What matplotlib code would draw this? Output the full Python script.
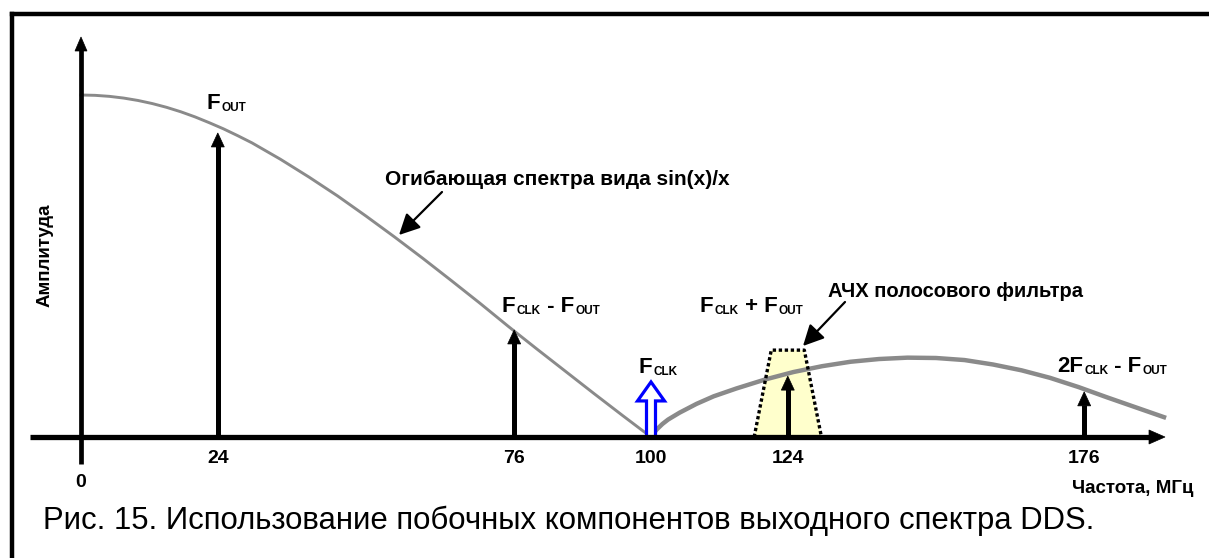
import matplotlib
matplotlib.use('Agg')
import matplotlib.pyplot as plt
from matplotlib.patches import Polygon
from matplotlib.lines import Line2D
import numpy as np

plt.rcParams['font.family'] = ['Liberation Sans', 'DejaVu Sans']

# -----------------
# DATA
# -----------------
# огибающая sin(x)/x, первый лепесток (частота, МГц / относительная амплитуда)
lobe1_f = [0, 2.5, 5, 7.5, 10, 12.5, 15, 17.5, 20, 22.5, 25, 27.5, 30, 35, 40, 45, 50,
           55, 60, 65, 70, 75, 80, 85, 90, 95, 100]
lobe1_a = [1.0, 0.999, 0.996, 0.991, 0.984, 0.975, 0.964, 0.951, 0.936, 0.919, 0.901,
           0.881, 0.86, 0.812, 0.76, 0.705, 0.646, 0.585, 0.522, 0.457, 0.391, 0.323,
           0.257, 0.192, 0.127, 0.063, 0.0]
# второй лепесток
lobe2_f = [100, 101, 102, 103, 105, 108, 111, 115, 120, 125, 130, 135, 140, 145, 150,
           155, 160, 165, 170, 175, 180, 185, 190]
lobe2_a = [0.0, 0.022, 0.038, 0.051, 0.071, 0.097, 0.119, 0.142, 0.168, 0.19, 0.207,
           0.22, 0.228, 0.232, 0.231, 0.225, 0.212, 0.195, 0.173, 0.146, 0.116, 0.087, 0.058]

# спектральные составляющие
comp_f = [24, 76, 124, 176]
comp_a = [0.889, 0.313, 0.178, 0.132]
clk_f, clk_a = 100, 0.161  # F_CLK

# АЧХ полосового фильтра (трапеция)
filter_f = [118.1, 121.1, 126.9, 129.9]
filter_a = [0.0, 0.254, 0.254, 0.0]

tick_vals = [24, 76, 100, 124, 176]

# -----------------
# ГЕОМЕТРИЯ
# -----------------
W, H, DPI = 1209, 558, 100
X0_PX, Y0_PX = 81, 437   # начало координат в пикселях
SX, SY = 5.7, 342.0      # пикселей на единицу


def px(xp, yp):
    # пиксели -> данные
    return (xp - X0_PX) / SX, (Y0_PX - yp) / SY


fig = plt.figure(figsize=(W / DPI, H / DPI), dpi=DPI)
ax = fig.add_axes([0, 0, 1, 1])
ax.set_xlim(-X0_PX / SX, (W - X0_PX) / SX)
ax.set_ylim(-(H - Y0_PX) / SY, Y0_PX / SY)
ax.axis('off')


def block_arrow(x0, y0, x1, y1, lw, hl, hw, color='k', z=4):
    # стрелка: ствол линией, голова треугольником (hl, hw в пикселях)
    dxp, dyp = (x1 - x0) * SX, (y1 - y0) * SY
    L = np.hypot(dxp, dyp)
    ux, uy = dxp / L, dyp / L
    bx, by = x1 - ux * hl / SX, y1 - uy * hl / SY
    nx, ny = -uy * hw / 2 / SX, ux * hw / 2 / SY
    ax.plot([x0, bx + ux * 1 / SX], [y0, by + uy * 1 / SY], color=color, lw=lw,
            solid_capstyle='butt', zorder=z)
    ax.add_patch(Polygon([[bx + nx, by + ny], [bx - nx, by - ny], [x1, y1]],
                         closed=True, fc=color, ec=color, lw=0.5, zorder=z))


def hollow_arrow(x, y0, y1, sw, hl, hw, color='#0000ff'):
    # полая стрелка F_CLK (размеры в пикселях)
    s, h, l = sw / 2 / SX, hw / 2 / SX, hl / SY
    pts = [[x - s, y0], [x - s, y1 - l], [x - h, y1 - l], [x, y1],
           [x + h, y1 - l], [x + s, y1 - l], [x + s, y0]]
    ax.add_patch(Polygon(pts, closed=True, fc='white', ec=color, lw=2.3,
                         joinstyle='miter', zorder=3))


def sub_label(xp, yp, parts, size=16, subsize=8.5):
    # подпись вида F_CLK - F_OUT: чётные куски обычные, нечётные - индексы
    x, y = px(xp, yp)
    prev = ax.text(x, y, parts[0], fontsize=size, fontweight='bold',
                   ha='left', va='baseline', zorder=6)
    for i, p in enumerate(parts[1:], 1):
        sub = i % 2 == 1
        prev = ax.annotate(p, xy=(1, 0), xycoords=prev,
                           xytext=(0.8 if sub else 0, 0), textcoords='offset points',
                           fontsize=subsize if sub else size, fontweight='bold',
                           ha='left', va='bottom', zorder=6)


# рамка
fig.add_artist(Line2D([12 / W, 12 / W], [0, 1 - 14 / H], color='k', lw=3.2,
                      transform=fig.transFigure, solid_capstyle='projecting'))
fig.add_artist(Line2D([12 / W, 1], [1 - 14 / H, 1 - 14 / H], color='k', lw=3.2,
                      transform=fig.transFigure, solid_capstyle='projecting'))

# фильтр
ax.add_patch(Polygon(np.column_stack([filter_f, filter_a]), closed=True,
                     fc='#ffffcc', ec='none', zorder=1))
ax.plot(filter_f, filter_a, color='k', lw=2.4, linestyle=(0, (1, 0.8)), zorder=3)

# огибающая
ax.plot(lobe1_f, lobe1_a, color='#8a8a8a', lw=2.1, zorder=2)
ax.plot(lobe2_f, lobe2_a, color='#8a8a8a', lw=3.2, zorder=2)

# спектральные линии
for f, a in zip(comp_f, comp_a):
    block_arrow(f, 0, f, a, lw=3.6, hl=14, hw=13)

hollow_arrow(clk_f, 0, clk_a, sw=9, hl=19, hw=27)

# оси
xa0, _ = px(30, 0)
xa1, _ = px(1165, 0)
block_arrow(xa0, 0, xa1, 0, lw=3.8, hl=16, hw=14, z=5)
_, ya0 = px(0, 464)
_, ya1 = px(0, 37)
block_arrow(0, ya0, 0, ya1, lw=3.4, hl=14, hw=12, z=5)

# подписи шкалы
for v in tick_vals:
    ax.text(v, px(0, 450)[1], str(v), fontsize=14, fontweight='bold',
            ha='center', va='top')
ax.text(0, px(0, 474)[1], '0', fontsize=14, fontweight='bold', ha='center', va='top')

# подписи осей
ax.text(*px(45, 255), 'Амплитуда', fontsize=13.5, fontweight='bold', rotation=90,
        ha='center', va='center')
ax.text(*px(1072, 480), 'Частота, МГц', fontsize=13.5, fontweight='bold',
        ha='left', va='top')

# подписи составляющих
sub_label(207, 109, ['F', 'OUT'])
sub_label(502, 312, ['F', 'CLK', ' - F', 'OUT'])
sub_label(639, 373, ['F', 'CLK'])
sub_label(700, 312, ['F', 'CLK', ' + F', 'OUT'])
sub_label(1057, 372, ['2F', 'CLK', ' - F', 'OUT'])

# пояснения со стрелками
ax.text(*px(385, 185), 'Огибающая спектра вида sin(x)/x', fontsize=15,
        fontweight='bold', ha='left', va='baseline')
ax.annotate('', xy=px(399, 235), xytext=px(442, 192),
            arrowprops=dict(arrowstyle='-|>,head_length=0.9,head_width=0.45',
                            color='k', lw=1.6, mutation_scale=14, shrinkA=0, shrinkB=0))
ax.text(*px(828, 297), 'АЧХ полосового фильтра', fontsize=14.5,
        fontweight='bold', ha='left', va='baseline')
ax.annotate('', xy=px(803, 346), xytext=px(845, 302),
            arrowprops=dict(arrowstyle='-|>,head_length=0.9,head_width=0.45',
                            color='k', lw=1.6, mutation_scale=14, shrinkA=0, shrinkB=0))

# подпись рисунка
ax.text(*px(43, 529), 'Рис. 15. Использование побочных компонентов выходного спектра DDS.',
        fontsize=22.4, ha='left', va='baseline')

fig.savefig('out.png', dpi=DPI, facecolor='white')
